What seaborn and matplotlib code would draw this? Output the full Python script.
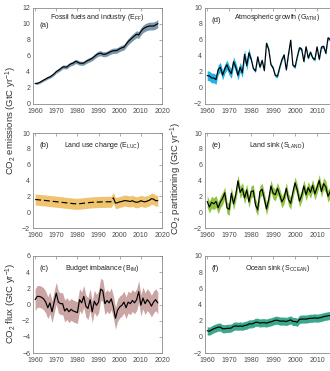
import numpy as np
import pandas as pd
import matplotlib
matplotlib.use("Agg")
import matplotlib.pyplot as plt
import seaborn as sns

# ---------------- data (GtC/yr) ----------------
years = list(range(1960, 2019))

e_ff = [2.57, 2.58, 2.69, 2.83, 2.99, 3.13, 3.29, 3.39, 3.57, 3.78,
        4.05, 4.21, 4.40, 4.63, 4.64, 4.62, 4.87, 5.03, 5.11, 5.32,
        5.25, 5.11, 5.09, 5.11, 5.31, 5.45, 5.57, 5.71, 5.93, 6.15,
        6.30, 6.35, 6.22, 6.22, 6.30, 6.45, 6.57, 6.66, 6.66, 6.73,
        6.91, 7.02, 7.10, 7.46, 7.80, 8.05, 8.30, 8.52, 8.72, 8.63,
        9.07, 9.38, 9.55, 9.67, 9.74, 9.75, 9.75, 9.87, 10.05]

e_luc = [1.60, 1.58, 1.55, 1.52, 1.50, 1.47, 1.44, 1.41, 1.38, 1.35,
         1.32, 1.29, 1.26, 1.23, 1.20, 1.17, 1.14, 1.11, 1.08, 1.06,
         1.05, 1.07, 1.10, 1.13, 1.16, 1.19, 1.22, 1.24, 1.26, 1.27,
         1.28, 1.29, 1.30, 1.30, 1.31, 1.31, 1.32, 1.80, 1.15, 1.20,
         1.30, 1.35, 1.45, 1.45, 1.40, 1.35, 1.45, 1.30, 1.25, 1.30,
         1.45, 1.35, 1.30, 1.40, 1.50, 1.70, 1.65, 1.45, 1.45]
luc_dashed_until = 1997

b_im = [0.60, 1.00, 1.00, 0.90, 0.70, 0.30, -0.40, 0.20, -0.90, 0.30,
        1.40, 0.30, 0.10, 0.10, -0.80, -0.50, -0.90, -0.60, -0.80, -0.90,
        -1.00, 0.60, 0.20, 1.00, -0.20, -0.50, 0.60, -0.90, 0.40, -0.10,
        0.30, 1.90, 1.70, 0.10, 0.50, 0.20, 0.70, -0.30, -1.70, -0.70,
        -0.30, -0.10, 0.30, -0.40, 0.30, 0.10, 0.50, 0.20, 0.60, 1.60,
        -0.10, 0.80, 0.10, 0.60, 0.30, -0.20, 0.30, 0.60, 0.20]

g_atm = [1.55, 1.50, 1.25, 1.25, 1.05, 2.30, 2.60, 1.60, 2.40, 2.90,
         2.20, 1.80, 3.30, 2.60, 1.60, 2.60, 1.90, 4.20, 2.80, 4.40,
         3.63, 2.44, 2.12, 3.89, 2.61, 3.46, 2.17, 5.59, 4.82, 2.93,
         2.51, 1.55, 1.49, 2.59, 3.53, 4.14, 2.27, 4.21, 5.97, 2.85,
         2.63, 3.91, 5.03, 4.84, 3.31, 5.16, 3.74, 4.48, 3.76, 3.55,
         5.14, 3.59, 5.12, 5.20, 4.33, 6.27, 6.05, 4.61, 5.10]

s_land = [1.35, 0.65, 1.25, 1.05, 1.35, 0.55, 1.30, 1.75, 2.45, 0.55,
          0.35, 2.40, 1.05, 2.20, 3.95, 2.50, 3.00, 1.80, 2.80, 1.30,
          2.60, 2.70, 0.90, 0.30, 2.60, 2.90, 1.70, 0.40, 1.60, 3.30,
          2.40, 2.20, 3.00, 2.20, 1.30, 1.80, 3.00, 1.60, 1.10, 2.50,
          3.70, 2.80, 1.40, 2.10, 3.30, 2.20, 3.10, 2.50, 3.40, 2.30,
          3.10, 4.00, 2.60, 3.60, 3.20, 2.00, 2.60, 3.50, 3.40]

s_ocean = [0.75, 0.70, 0.85, 1.00, 1.10, 1.20, 1.20, 1.00, 1.00, 1.05,
           1.05, 1.10, 1.30, 1.35, 1.30, 1.35, 1.30, 1.40, 1.45, 1.60,
           1.60, 1.65, 1.80, 1.80, 1.70, 1.75, 1.75, 1.70, 1.80, 1.85,
           1.95, 2.05, 2.05, 1.95, 1.95, 1.95, 1.90, 2.00, 2.10, 1.90,
           1.90, 1.80, 2.15, 2.20, 2.20, 2.20, 2.25, 2.30, 2.30, 2.35,
           2.30, 2.35, 2.40, 2.50, 2.55, 2.60, 2.65, 2.55, 2.60]

# one-sigma uncertainties
ff_unc_frac = 0.05
luc_unc = 0.7
bim_unc = 1.35
atm_unc_early, atm_unc_late, atm_unc_break = 0.6, 0.2, 1980
land_unc = 0.75
ocean_unc = 0.5

df = pd.DataFrame({"year": years, "EFF": e_ff, "ELUC": e_luc, "BIM": b_im,
                   "GATM": g_atm, "SLAND": s_land, "SOCEAN": s_ocean})
yr = df["year"].to_numpy()

# ---------------- style ----------------
sns.set_style("white")
plt.rcParams["font.family"] = ["Liberation Sans", "DejaVu Sans"]
plt.rcParams["mathtext.default"] = "regular"

fig = plt.figure(figsize=(3.3, 3.71), dpi=100)
W, H = 330.0, 371.0

def pos(left, top, right, bottom):
    return [left / W, 1 - bottom / H, (right - left) / W, (bottom - top) / H]

col_l = (33, 162)
col_r = (205, 339)
rows = [(8, 104), (133, 228), (256, 353)]

spine_c = "#8a8a8a"
tick_lab_c = "#4a4a4a"

def style_axes(ax, ylim, yticks):
    ax.set_xlim(1959, 2020)
    ax.set_ylim(*ylim)
    ax.set_xticks([1960, 1970, 1980, 1990, 2000, 2010, 2020])
    ax.set_yticks(yticks)
    ax.tick_params(direction="in", top=True, right=True, length=2.2,
                   width=0.5, colors=spine_c, labelcolor=tick_lab_c,
                   labelsize=5.0, pad=2)
    ax.tick_params(axis="x", pad=3)
    for s in ax.spines.values():
        s.set_color(spine_c)
        s.set_linewidth(0.6)
    ax.set_xlabel("")
    ax.set_ylabel("")

def annotate(ax, letter, title, title_y=0.87, letter_y=0.87, title_x=0.54):
    ax.text(0.05, letter_y, letter, transform=ax.transAxes, fontsize=5.6,
            ha="left", va="center", color="#222222")
    ax.text(title_x, title_y, title, transform=ax.transAxes, fontsize=5.0,
            ha="center", va="center", color="#222222")

def band(ax, lo, hi, color):
    ax.fill_between(yr, lo, hi, color=color, lw=0, zorder=1)

def line(ax, col, sub=None, **kw):
    d = df if sub is None else df[sub]
    sns.lineplot(data=d, x="year", y=col, ax=ax, color="black", lw=0.85,
                 errorbar=None, zorder=3, **kw)

# (a) fossil fuels
ax = fig.add_axes(pos(col_l[0], rows[0][0], col_l[1], rows[0][1]))
eff = df["EFF"].to_numpy()
band(ax, eff * (1 - ff_unc_frac), eff * (1 + ff_unc_frac), "#7b97aa")
line(ax, "EFF")
style_axes(ax, (0, 12), range(0, 13, 2))
annotate(ax, "(a)", r"Fossil fuels and industry (E$_{FF}$)", title_y=0.90,
         letter_y=0.82, title_x=0.50)

# (b) land use change
ax = fig.add_axes(pos(col_l[0], rows[1][0], col_l[1], rows[1][1]))
eluc = df["ELUC"].to_numpy()
band(ax, eluc - luc_unc, eluc + luc_unc, "#f0c46e")
line(ax, "ELUC", sub=df["year"] <= luc_dashed_until, linestyle=(0, (5, 2.5)))
line(ax, "ELUC", sub=df["year"] >= luc_dashed_until)
style_axes(ax, (-2, 10), range(-2, 11, 2))
annotate(ax, "(b)", r"Land use change (E$_{LUC}$)")

# (c) budget imbalance
ax = fig.add_axes(pos(col_l[0], rows[2][0], col_l[1], rows[2][1]))
bim = df["BIM"].to_numpy()
band(ax, bim - bim_unc, bim + bim_unc, "#cba4a4")
line(ax, "BIM")
style_axes(ax, (-6, 6), range(-6, 7, 2))
annotate(ax, "(c)", r"Budget imbalance (B$_{IM}$)")

# (d) atmospheric growth
ax = fig.add_axes(pos(col_r[0], rows[0][0], col_r[1], rows[0][1]))
gatm = df["GATM"].to_numpy()
atm_unc = np.where(yr < atm_unc_break, atm_unc_early, atm_unc_late)
band(ax, gatm - atm_unc, gatm + atm_unc, "#22b2e4")
line(ax, "GATM")
style_axes(ax, (-2, 10), range(-2, 11, 2))
annotate(ax, "(d)", r"Atmospheric growth (G$_{ATM}$)", title_y=0.90, letter_y=0.87)

# (e) land sink
ax = fig.add_axes(pos(col_r[0], rows[1][0], col_r[1], rows[1][1]))
sl = df["SLAND"].to_numpy()
band(ax, sl - land_unc, sl + land_unc, "#8fc440")
line(ax, "SLAND")
style_axes(ax, (-2, 10), range(-2, 11, 2))
annotate(ax, "(e)", r"Land sink (S$_{LAND}$)")

# (f) ocean sink
ax = fig.add_axes(pos(col_r[0], rows[2][0], col_r[1], rows[2][1]))
so = df["SOCEAN"].to_numpy()
band(ax, so - ocean_unc, so + ocean_unc, "#3ba88c")
line(ax, "SOCEAN")
style_axes(ax, (-2, 10), range(-2, 11, 2))
annotate(ax, "(f)", r"Ocean sink (S$_{OCEAN}$)")

# shared y labels
ylab_kw = dict(rotation=90, ha="center", va="center", fontsize=6.8, color="#333333")
fig.text(11 / W, 1 - 121 / H, r"CO$_2$ emissions (GtC yr$^{-1}$)", **ylab_kw)
fig.text(176 / W, 1 - 178 / H, r"CO$_2$ partitioning (GtC yr$^{-1}$)", **ylab_kw)
fig.text(11 / W, 1 - 303 / H, r"CO$_2$ flux (GtC yr$^{-1}$)", **ylab_kw)

fig.savefig("out.png", dpi=100)
